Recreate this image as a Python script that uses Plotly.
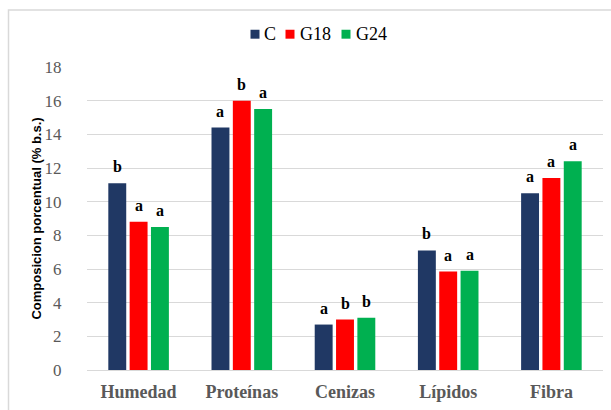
import plotly.graph_objects as go

# Composition per category for each treatment
categories = ["Humedad", "Proteínas", "Cenizas", "Lípidos", "Fibra"]
series_names = ["C", "G18", "G24"]
values_c = [11.1, 14.4, 2.7, 7.1, 10.5]
values_g18 = [8.8, 16.0, 3.0, 5.85, 11.4]
values_g24 = [8.5, 15.5, 3.1, 5.9, 12.4]
letters_c = ["b", "a", "a", "b", "a"]
letters_g18 = ["a", "b", "b", "a", "a"]
letters_g24 = ["a", "a", "b", "a", "a"]
y_ticks = [0, 2, 4, 6, 8, 10, 12, 14, 16, 18]

colors = ["#203864", "#FF0000", "#00B050"]
SERIF = "Liberation Serif"
W, H = 611, 410
ML, MR, MT, MB = 87, 8, 67, 38
BARGAP, GROUPGAP = 0.38, 0.16

pw = W - ML - MR
ph = H - MT - MB
slot = pw / len(categories) * (1 - BARGAP) / 3


def px_x(px):
    return (px - ML) / pw


def px_y(py):
    return (MT + ph - py) / ph


fig = go.Figure()
for k, (name, vals, lets, col) in enumerate(zip(series_names,
                                               [values_c, values_g18, values_g24],
                                               [letters_c, letters_g18, letters_g24],
                                               colors)):
    fig.add_trace(go.Bar(
        x=categories, y=vals, name=name,
        marker=dict(color=col, line=dict(width=0)),
        showlegend=False,
    ))
    # significance letters above each bar
    for cat, v, lt in zip(categories, vals, lets):
        fig.add_annotation(
            x=cat, y=v, xref="x", yref="y", text=f"<b>{lt}</b>",
            showarrow=False, yanchor="bottom", yshift=6,
            xshift=(k - 1) * slot,
            font=dict(family=SERIF, size=16, color="#000000"),
        )

# compact legend row: coloured square followed by series name
legend_square_left = [250.5, 285.5, 341.5]
legend_text_left = [262, 298, 354]
for name, col, sx, tx in zip(series_names, colors, legend_square_left, legend_text_left):
    fig.add_shape(type="rect", xref="paper", yref="paper",
                  x0=px_x(sx), x1=px_x(sx + 9), y0=px_y(38.5), y1=px_y(29.5),
                  line=dict(width=0), fillcolor=col)
    fig.add_annotation(xref="paper", yref="paper", x=px_x(tx), y=px_y(34),
                       xanchor="left", yanchor="middle", showarrow=False,
                       text=name, font=dict(family=SERIF, size=18, color="#000000"))

# light frame around the chart
fig.add_shape(type="rect", xref="paper", yref="paper",
              x0=px_x(8.5), x1=px_x(W + 10),
              y0=px_y(H + 10), y1=px_y(9.5),
              line=dict(color="#D9D9D9", width=1.5), fillcolor="rgba(0,0,0,0)",
              layer="below")

fig.update_layout(
    width=W, height=H,
    margin=dict(l=ML, r=MR, t=MT, b=MB),
    paper_bgcolor="white", plot_bgcolor="white",
    barmode="group", bargap=BARGAP, bargroupgap=GROUPGAP,
    showlegend=False,
    xaxis=dict(
        tickfont=dict(family=SERIF, size=18, color="#595959"),
        tickprefix="<b>", ticksuffix="</b>",
        showline=True, linecolor="#D9D9D9", linewidth=1,
        ticks="outside", ticklen=5, tickcolor="rgba(0,0,0,0)",
    ),
    yaxis=dict(
        range=[0, 18], tickvals=y_ticks,
        tickfont=dict(family=SERIF, size=17, color="#595959"),
        gridcolor="#D9D9D9", gridwidth=1,
        zeroline=False, showline=False,
        ticks="outside", ticklen=21, tickcolor="rgba(0,0,0,0)",
        title=dict(text="<b>Composicion porcentual (% b.s.)</b>",
                   font=dict(family="Liberation Sans", size=13, color="#000000"),
                   standoff=0),
    ),
)

fig.write_html("out.html")
